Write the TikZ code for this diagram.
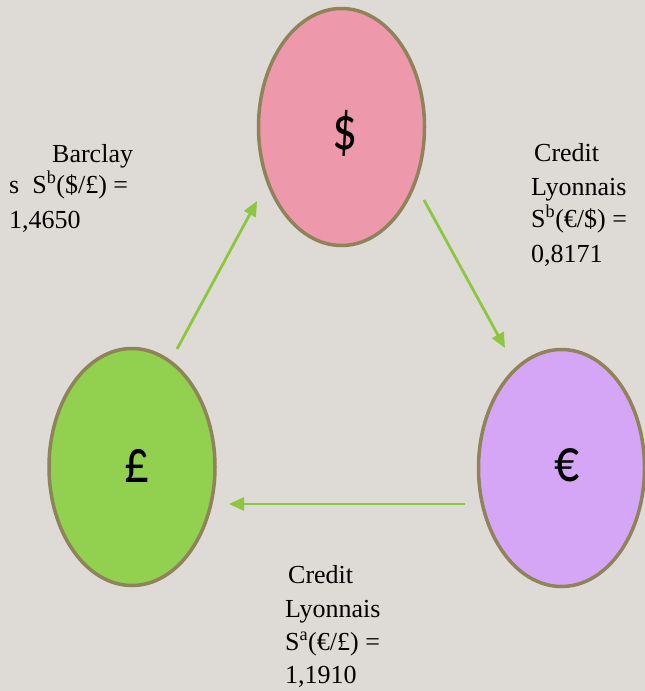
\documentclass[tikz,border=0pt]{standalone}
\usepackage{fontspec}
\setmainfont{Liberation Serif}
\newfontfamily\symfont{Carlito}
\usetikzlibrary{shapes.geometric,arrows.meta}
\definecolor{bgc}{HTML}{DEDBD6}
\definecolor{rimc}{HTML}{8F8359}
\definecolor{pinkc}{HTML}{EE98AC}
\definecolor{greenc}{HTML}{92D050}
\definecolor{purplec}{HTML}{D5A6F5}
\definecolor{arrc}{HTML}{8DC63F}
\tikzset{
  cur/.style={ellipse, draw=rimc, line width=3.5pt, minimum width=166pt, minimum height=237pt, inner sep=0pt},
  sym/.style={inner sep=0pt, xscale=0.8, font=\symfont\fontsize{62}{66}\selectfont},
  lbl/.style={anchor=base west, inner sep=0pt, font=\fontsize{26}{30}\selectfont},
  flow/.style={draw=arrc, line width=2.8pt, -{Triangle[length=15pt,width=13pt]}}
}
\begin{document}
\begin{tikzpicture}[x=1pt,y=-1pt]
\fill[bgc] (0,0) rectangle (645,691);
\useasboundingbox (0,0) rectangle (645,691);
% ellipses
\node[cur, fill=pinkc] (usd) at (341.5,127) {};
\node[cur, fill=greenc] (gbp) at (132,467) {};
\node[cur, fill=purplec] (eur) at (561.5,468) {};
\node[sym] (usdS) at (345,133) {\$};
\node[sym] (gbpS) at (137,466) {£};
\node[sym] (eurS) at (567,465) {€};
% arrow end points
\coordinate (a1s) at (177,349);
\coordinate (a1e) at (257,201);
\coordinate (a2s) at (424,200);
\coordinate (a2e) at (505,348);
\coordinate (a3s) at (465,504);
\coordinate (a3e) at (229,504);
\draw[flow] (a1s) -- (a1e);
\draw[flow] (a2s) -- (a2e);
\draw[flow] (a3s) -- (a3e);
% labels
\node[lbl] (l1a) at (52,162) {Barclay};
\node[lbl] (l1b) at (9,193) {s\ \ S\textsuperscript{b}(\$/£) =};
\node[lbl] (l1c) at (9,228) {1,4650};
\node[lbl] (l2a) at (534,161) {Credit};
\node[lbl] (l2b) at (531,195) {Lyonnais};
\node[lbl] (l2c) at (531,227) {S\textsuperscript{b}(€/\$) =};
\node[lbl] (l2d) at (531,262) {0,8171};
\node[lbl] (l3a) at (288,583) {Credit};
\node[lbl] (l3b) at (285,617) {Lyonnais};
\node[lbl] (l3c) at (285,650) {S\textsuperscript{a}(€/£) =};
\node[lbl] (l3d) at (285,683) {1,1910};
\end{tikzpicture}
\end{document}
